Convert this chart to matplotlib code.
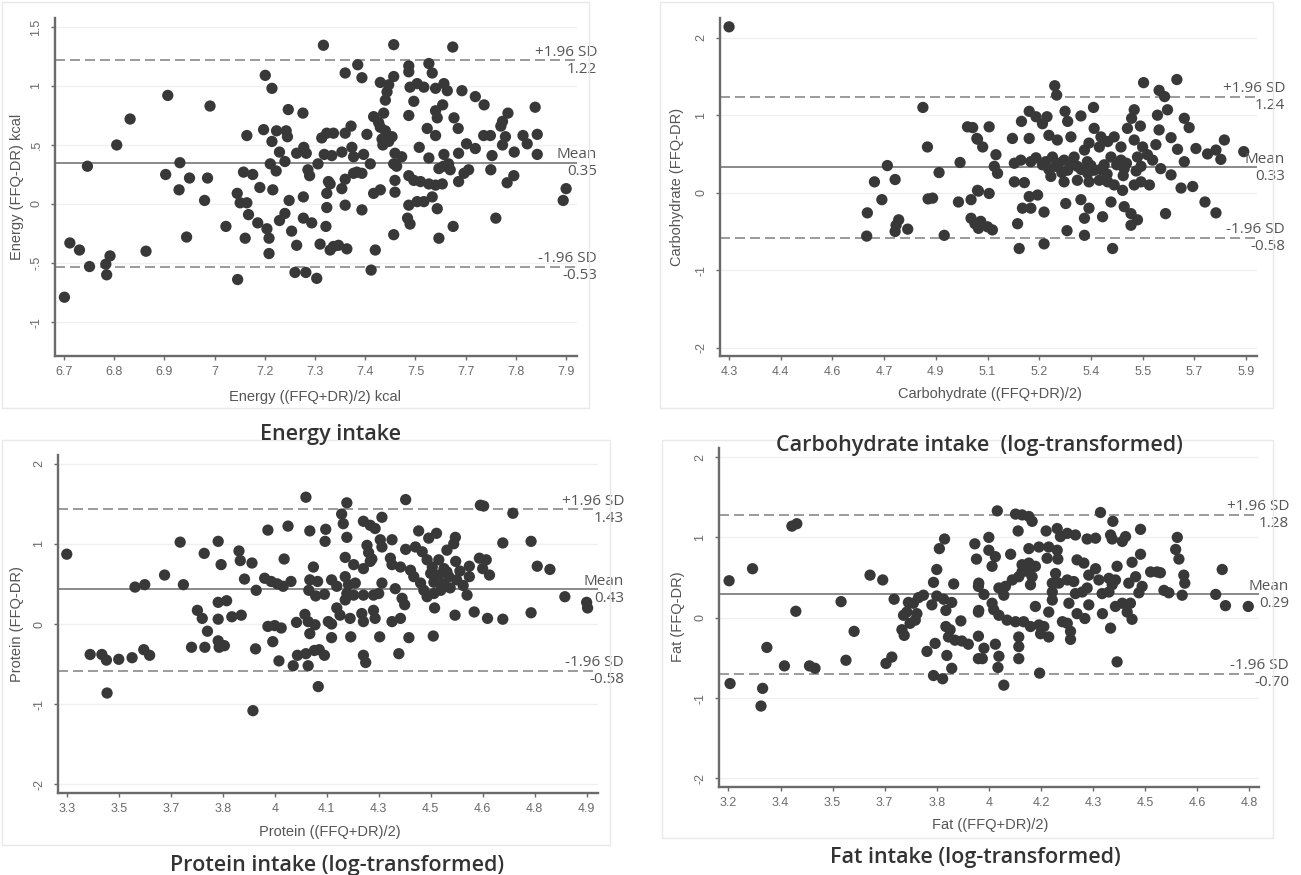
import numpy as np
import matplotlib
import matplotlib.pyplot as plt
from matplotlib.patches import Rectangle

matplotlib.use('agg')

# Bland-Altman data: (mean of FFQ and DR, FFQ - DR)
energy_points = [
    (7.320, 1.345), (7.181, 1.09), (7.197, 0.98), (6.948, 0.92), (7.049, 0.83), (7.236, 0.80), (7.271, 0.77),
    (6.858, 0.72), (6.826, 0.50), (6.756, 0.32), (6.943, 0.25), (6.977, 0.35), (6.975, 0.12), (7.000, 0.22),
    (7.043, 0.22), (7.036, 0.03), (6.993, -0.28), (7.087, -0.19), (6.896, -0.40), (6.714, -0.33), (6.737, -0.39),
    (6.761, -0.53), (6.810, -0.44), (6.800, -0.51), (6.802, -0.60), (6.701, -0.79), (7.137, 0.58), (7.177, 0.63),
    (7.208, 0.62), (7.231, 0.62), (7.234, 0.57), (7.197, 0.53), (7.215, 0.44), (7.228, 0.36), (7.193, 0.34),
    (7.207, 0.28), (7.129, 0.27), (7.151, 0.25), (7.168, 0.14), (7.199, 0.12), (7.114, 0.09), (7.121, 0.01),
    (7.137, 0.01), (7.141, -0.09), (7.163, -0.16), (7.185, -0.21), (7.190, -0.29), (7.133, -0.29), (7.190, -0.42),
    (7.115, -0.64), (7.228, -0.08), (7.215, -0.14), (7.238, 0.03), (7.244, -0.23), (7.256, -0.35), (7.252, -0.58),
    (7.278, -0.58), (7.304, -0.63), (7.256, 0.43), (7.273, 0.48), (7.279, 0.43), (7.283, 0.29), (7.287, 0.24),
    (7.307, 0.34), (7.272, 0.06), (7.272, -0.12), (7.292, -0.16), (7.312, -0.34), (7.316, 0.56), (7.328, 0.60),
    (7.322, 0.42), (7.328, 0.09), (7.332, 0.19), (7.328, -0.03), (7.326, -0.19), (7.336, -0.39),
    (7.488, 1.35), (7.629, 1.33), (7.402, 1.18), (7.372, 1.11), (7.412, 1.07), (7.524, 1.17), (7.524, 1.12),
    (7.572, 1.19), (7.580, 1.11), (7.488, 1.08), (7.456, 1.03), (7.476, 1.01), (7.472, 0.95), (7.468, 0.88),
    (7.527, 0.99), (7.544, 1.02), (7.560, 0.99), (7.588, 0.98), (7.608, 1.02), (7.616, 0.96), (7.605, 0.84),
    (7.651, 0.96), (7.683, 0.91), (7.704, 0.84), (7.826, 0.82), (7.761, 0.77), (7.748, 0.70), (7.744, 0.66),
    (7.536, 0.87), (7.524, 0.75), (7.588, 0.79), (7.592, 0.73), (7.632, 0.73), (7.642, 0.64), (7.440, 0.74),
    (7.452, 0.69), (7.464, 0.77), (7.456, 0.65), (7.468, 0.62), (7.484, 0.57), (7.460, 0.55), (7.476, 0.53),
    (7.462, 0.50), (7.424, 0.59), (7.386, 0.66), (7.372, 0.60), (7.344, 0.60), (7.568, 0.64), (7.588, 0.58),
    (7.703, 0.58), (7.719, 0.58), (7.755, 0.57), (7.797, 0.58), (7.831, 0.59), (7.807, 0.51), (7.748, 0.50),
    (7.776, 0.44), (7.831, 0.42), (7.723, 0.41), (7.683, 0.47), (7.662, 0.51), (7.643, 0.43), (7.549, 0.48),
    (7.572, 0.39), (7.608, 0.42), (7.607, 0.32), (7.619, 0.34), (7.623, 0.29), (7.596, 0.30), (7.491, 0.43),
    (7.507, 0.40), (7.488, 0.34), (7.495, 0.32), (7.388, 0.48), (7.364, 0.44), (7.340, 0.41), (7.392, 0.40),
    (7.416, 0.42), (7.432, 0.34), (7.400, 0.27), (7.392, 0.26), (7.412, 0.26), (7.372, 0.21), (7.364, 0.13),
    (7.336, 0.17), (7.372, -0.01), (7.412, -0.05), (7.344, -0.36), (7.356, -0.35), (7.376, -0.38), (7.444, -0.39),
    (7.434, -0.56), (7.440, 0.09), (7.456, 0.12), (7.491, 0.20), (7.491, 0.10), (7.524, 0.24), (7.536, 0.20),
    (7.552, 0.19), (7.572, 0.17), (7.588, 0.16), (7.604, 0.17), (7.643, 0.19), (7.720, 0.29), (7.667, 0.29),
    (7.656, 0.26), (7.775, 0.24), (7.759, 0.18), (7.900, 0.13), (7.893, 0.03), (7.580, 0.06), (7.560, 0.02),
    (7.544, 0.02), (7.524, -0.01), (7.592, -0.04), (7.521, -0.12), (7.527, -0.17), (7.488, -0.26), (7.596, -0.29),
    (7.630, -0.19), (7.732, -0.12),
]

carb_points = [
    (4.300, 2.14), (4.900, 1.10), (5.038, 0.85), (5.067, 0.70), (4.914, 0.59), (4.790, 0.35), (5.015, 0.39),
    (4.950, 0.26), (4.750, 0.14), (4.814, 0.17), (4.773, -0.09), (4.916, -0.08), (4.930, -0.07), (5.010, -0.12),
    (5.049, -0.09), (5.072, 0.02), (4.728, -0.26), (4.825, -0.35), (4.817, -0.42), (4.814, -0.50), (4.853, -0.47),
    (4.726, -0.56), (4.966, -0.55), (5.049, -0.33), (5.061, -0.40), (5.072, -0.46),
    (5.308, 1.38), (5.314, 1.26), (5.583, 1.42), (5.686, 1.46), (5.631, 1.32), (5.648, 1.24), (5.657, 1.07),
    (5.626, 1.00), (5.709, 0.96), (5.724, 0.84), (5.554, 1.07), (5.546, 0.96), (5.573, 0.86), (5.533, 0.83),
    (5.428, 1.10), (5.340, 1.05), (5.389, 0.99), (5.348, 0.92), (5.229, 1.05), (5.250, 0.98), (5.284, 0.98),
    (5.205, 0.92), (5.270, 0.89), (5.105, 0.85), (5.054, 0.84), (5.177, 0.70), (5.229, 0.70), (5.290, 0.74),
    (5.316, 0.68), (5.358, 0.72), (5.430, 0.83), (5.451, 0.72), (5.472, 0.66), (5.492, 0.72), (5.446, 0.59),
    (5.414, 0.64), (5.400, 0.55), (5.513, 0.59), (5.554, 0.68), (5.580, 0.59), (5.621, 0.62), (5.631, 0.81),
    (5.668, 0.71), (5.688, 0.56), (5.745, 0.57), (5.781, 0.50), (5.807, 0.55), (5.833, 0.68), (5.822, 0.43),
    (5.893, 0.53), (5.069, 0.69), (5.085, 0.59), (5.126, 0.49), (5.121, 0.34), (5.131, 0.25), (5.183, 0.38),
    (5.203, 0.42), (5.234, 0.40), (5.270, 0.36), (5.301, 0.46), (5.311, 0.34), (5.337, 0.42), (5.368, 0.46),
    (5.348, 0.29), (5.378, 0.34), (5.409, 0.40), (5.430, 0.29), (5.461, 0.36), (5.482, 0.46), (5.513, 0.42),
    (5.523, 0.31), (5.564, 0.46), (5.595, 0.49), (5.575, 0.34), (5.611, 0.42), (5.636, 0.31), (5.709, 0.40),
    (5.668, 0.23), (5.183, 0.14), (5.214, 0.13), (5.296, 0.21), (5.337, 0.14), (5.378, 0.16), (5.414, 0.14),
    (5.446, 0.16), (5.472, 0.14), (5.492, 0.10), (5.518, 0.03), (5.554, 0.10), (5.575, 0.14), (5.601, 0.10),
    (5.699, 0.06), (5.735, 0.08), (5.069, 0.03), (5.105, -0.01), (5.229, -0.05), (5.255, -0.03), (5.208, -0.20),
    (5.234, -0.20), (5.275, -0.25), (5.342, -0.14), (5.389, -0.09), (5.414, -0.20), (5.400, -0.33), (5.456, -0.31),
    (5.482, -0.12), (5.523, -0.18), (5.544, -0.27), (5.564, -0.35), (5.544, -0.42), (5.651, -0.27), (5.773, -0.12),
    (5.807, -0.26), (5.079, -0.37), (5.100, -0.44), (5.115, -0.48), (5.193, -0.40), (5.346, -0.49), (5.400, -0.55),
    (5.198, -0.72), (5.275, -0.66), (5.487, -0.72),
    (5.25, 0.45), (5.28, 0.40), (5.32, 0.38), (5.36, 0.36), (5.39, 0.30), (5.42, 0.35), (5.45, 0.30),
    (5.50, 0.36), (5.53, 0.38), (5.29, 0.30), (5.33, 0.26), (5.41, 0.25), (5.47, 0.24), (5.52, 0.22),
    (5.56, 0.28),
]

protein_points = [
    (3.300, 0.87), (3.372, -0.38), (3.408, -0.38), (3.422, -0.45), (3.460, -0.44), (3.501, -0.42), (3.537, -0.32),
    (3.555, -0.39), (3.424, -0.86), (3.510, 0.46), (3.540, 0.49), (3.601, 0.61), (3.649, 1.02), (3.659, 0.49),
    (3.723, 0.88), (3.766, 1.03), (3.775, 0.74), (3.702, 0.17), (3.717, 0.07), (3.766, 0.27), (3.792, 0.29),
    (3.766, 0.06), (3.808, 0.09), (3.837, 0.11), (3.733, -0.09), (3.684, -0.29), (3.725, -0.29), (3.766, -0.21),
    (3.769, -0.29), (3.785, -0.27), (3.881, -0.31), (3.873, -1.08), (3.830, 0.91), (3.834, 0.79), (3.870, 0.76),
    (3.847, 0.56), (3.883, 0.42), (3.909, 0.57), (3.929, 0.53), (3.948, 0.50), (3.966, 0.47), (3.990, 0.53),
    (3.919, 1.17), (3.981, 1.22), (3.969, 0.81), (4.036, 1.58), (4.048, 1.16), (4.097, 1.18), (4.095, 1.03),
    (4.059, 0.71), (4.048, 0.55), (4.045, 0.42), (4.072, 0.53), (4.066, 0.35), (4.093, 0.37), (4.115, 0.55),
    (3.919, -0.03), (3.940, -0.02), (3.960, -0.05), (3.934, -0.22), (3.953, -0.46), (4.007, 0.02), (4.033, 0.12),
    (4.043, 0.03), (4.064, -0.01), (4.048, -0.12), (4.115, 0.00), (4.115, -0.17), (3.997, -0.52), (4.010, -0.39),
    (4.036, -0.37), (4.062, -0.33), (4.077, -0.32), (4.093, -0.39), (4.043, -0.52), (4.074, -0.78),
    (4.162, 1.51), (4.343, 1.55), (4.573, 1.48), (4.583, 1.47), (4.673, 1.38), (4.146, 1.37), (4.151, 1.25),
    (4.270, 1.33), (4.213, 1.28), (4.234, 1.23), (4.249, 1.19), (4.162, 1.08), (4.224, 0.98), (4.229, 0.89),
    (4.239, 0.81), (4.265, 1.05), (4.301, 1.05), (4.270, 0.96), (4.383, 1.16), (4.414, 1.07), (4.438, 1.13),
    (4.496, 1.08), (4.491, 1.00), (4.343, 0.93), (4.373, 0.96), (4.394, 0.90), (4.470, 0.92), (4.642, 1.01),
    (4.729, 1.03), (4.157, 0.83), (4.183, 0.74), (4.213, 0.69), (4.234, 0.78), (4.296, 0.82), (4.301, 0.74),
    (4.327, 0.71), (4.358, 0.67), (4.368, 0.59), (4.409, 0.80), (4.425, 0.71), (4.445, 0.80), (4.461, 0.69),
    (4.420, 0.63), (4.445, 0.61), (4.476, 0.59), (4.497, 0.78), (4.539, 0.72), (4.570, 0.82), (4.591, 0.80),
    (4.580, 0.69), (4.601, 0.61), (4.539, 0.59), (4.748, 0.72), (4.787, 0.68), (4.157, 0.59), (4.167, 0.49),
    (4.188, 0.51), (4.131, 0.47), (4.270, 0.51), (4.311, 0.44), (4.260, 0.38), (4.244, 0.36), (4.213, 0.36),
    (4.162, 0.38), (4.157, 0.30), (4.183, 0.36), (4.389, 0.51), (4.399, 0.42), (4.409, 0.34), (4.430, 0.38),
    (4.451, 0.42), (4.432, 0.20), (4.332, 0.32), (4.340, 0.24), (4.532, 0.36), (4.833, 0.34), (4.900, 0.27),
    (4.903, 0.20), (4.131, 0.20), (4.141, 0.11), (4.105, 0.03), (4.172, 0.07), (4.208, 0.13), (4.213, 0.03),
    (4.244, 0.17), (4.249, 0.07), (4.301, 0.03), (4.327, 0.07), (4.495, 0.11), (4.554, 0.15), (4.595, 0.07),
    (4.642, 0.06), (4.729, 0.14), (4.174, -0.16), (4.263, -0.16), (4.353, -0.17), (4.428, -0.15), (4.213, -0.39),
    (4.220, -0.48), (4.322, -0.37),
    (4.46, 0.50), (4.48, 0.45), (4.50, 0.55), (4.52, 0.48), (4.47, 0.65), (4.51, 0.66), (4.43, 0.52),
]

fat_points = [
    (3.202, 0.46), (3.205, -0.82), (3.274, 0.61), (3.305, -0.88), (3.300, -1.10), (3.318, -0.37), (3.372, -0.60),
    (3.395, 1.14), (3.410, 1.17), (3.407, 0.08), (3.449, -0.60), (3.466, -0.63), (3.546, 0.20), (3.586, -0.17),
    (3.561, -0.53), (3.635, 0.53), (3.674, 0.47), (3.684, -0.57), (3.702, -0.49), (3.709, 0.23), (3.753, 0.19),
    (3.768, 0.18), (3.748, 0.07), (3.738, 0.03), (3.779, 0.05), (3.774, -0.03), (3.758, -0.07), (3.733, -0.15),
    (3.740, -0.22), (3.784, 0.25), (3.799, 0.28), (3.825, 0.16), (3.840, 0.27), (3.861, 0.23), (3.886, 0.19),
    (3.868, 0.09), (3.830, 0.44), (3.840, 0.60), (3.848, 0.86), (3.864, 0.98), (3.892, 0.42), (3.957, 0.92),
    (3.962, 0.73), (3.968, 0.39), (3.968, 0.07), (3.914, -0.04), (3.868, -0.11), (3.881, -0.15), (3.876, -0.24),
    (3.896, -0.28), (3.917, -0.29), (3.937, -0.33), (3.968, -0.23), (3.835, -0.32), (3.810, -0.42), (3.871, -0.47),
    (3.886, -0.63), (3.830, -0.72), (3.858, -0.76), (3.968, -0.51),
    (4.026, 1.33), (4.082, 1.29), (4.102, 1.28), (4.123, 1.26), (4.133, 1.20), (4.343, 1.31), (4.381, 1.20),
    (4.090, 1.08), (4.176, 1.08), (4.210, 1.11), (4.220, 1.01), (4.241, 1.05), (4.266, 1.03), (4.302, 0.98),
    (4.328, 0.99), (4.374, 1.03), (4.379, 0.98), (4.410, 0.95), (4.420, 1.01), (4.466, 1.10), (4.579, 1.00),
    (4.574, 0.85), (4.584, 0.73), (4.000, 1.00), (4.000, 0.84), (4.020, 0.76), (4.010, 0.64), (4.067, 0.79),
    (4.123, 0.86), (4.154, 0.88), (4.184, 0.88), (4.210, 0.84), (4.179, 0.74), (4.212, 0.73), (4.102, 0.66),
    (4.123, 0.68), (4.143, 0.64), (4.102, 0.57), (4.123, 0.57), (4.133, 0.51), (4.128, 0.41), (4.092, 0.51),
    (4.072, 0.47), (4.051, 0.39), (4.031, 0.37), (4.046, 0.28), (3.985, 0.29), (3.969, 0.43), (4.205, 0.55),
    (4.195, 0.43), (4.195, 0.32), (4.195, 0.22), (4.184, 0.07), (4.215, 0.43), (4.241, 0.47), (4.261, 0.45),
    (4.271, 0.72), (4.292, 0.68), (4.328, 0.61), (4.307, 0.53), (4.338, 0.47), (4.369, 0.49), (4.394, 0.64),
    (4.440, 0.69), (4.466, 0.79), (4.451, 0.51), (4.389, 0.47), (4.379, 0.41), (4.348, 0.30), (4.369, 0.32),
    (4.430, 0.43), (4.471, 0.39), (4.461, 0.31), (4.497, 0.57), (4.517, 0.57), (4.527, 0.56), (4.538, 0.34),
    (4.553, 0.31), (4.599, 0.53), (4.602, 0.43), (4.594, 0.28), (4.717, 0.60), (4.697, 0.29), (4.727, 0.15),
    (4.797, 0.14), (4.266, 0.30), (4.287, 0.32), (4.302, 0.37), (4.246, 0.18), (4.271, 0.05), (4.295, -0.01),
    (4.307, 0.16), (4.349, 0.05), (4.389, 0.14), (4.410, 0.18), (4.435, 0.18), (4.425, 0.07), (4.440, -0.02),
    (3.969, 0.09), (4.010, 0.18), (4.015, 0.10), (4.031, 0.03), (4.056, -0.03), (4.082, -0.05), (4.107, -0.05),
    (4.128, -0.11), (4.143, 0.14), (4.154, -0.09), (4.169, -0.11), (4.159, -0.20), (4.184, -0.24), (4.226, -0.05),
    (4.241, -0.07), (4.251, -0.17), (4.251, -0.27), (4.374, -0.13), (3.985, -0.38), (4.020, -0.33), (3.980, -0.51),
    (4.031, -0.48), (4.028, -0.62), (4.046, -0.84), (4.092, -0.24), (4.092, -0.36), (4.092, -0.51), (4.156, -0.69),
    (4.394, -0.55),
]

# mean difference and limits of agreement (mean, +1.96 SD, -1.96 SD)
energy_limits = (0.35, 1.22, -0.53)
carb_limits = (0.33, 1.24, -0.58)
protein_limits = (0.43, 1.43, -0.58)
fat_limits = (0.29, 1.28, -0.70)

# tick labels as printed (ticks are evenly spaced between first and last)
energy_xlabels = ["6.7", "6.8", "6.9", "7", "7.2", "7.3", "7.4", "7.5", "7.7", "7.8", "7.9"]
carb_xlabels = ["4.3", "4.4", "4.6", "4.7", "4.9", "5.1", "5.2", "5.4", "5.5", "5.7", "5.9"]
protein_xlabels = ["3.3", "3.5", "3.7", "3.8", "4", "4.1", "4.3", "4.5", "4.6", "4.8", "4.9"]
fat_xlabels = ["3.2", "3.4", "3.5", "3.7", "3.8", "4", "4.2", "4.3", "4.5", "4.6", "4.8"]

energy_yticks = [-1, -0.5, 0, 0.5, 1, 1.5]
energy_ylabels = ["-1", "-.5", "0", ".5", "1", "1.5"]
log_yticks = [-2, -1, 0, 1, 2]
log_ylabels = ["-2", "-1", "0", "1", "2"]

W, H = 1301, 875


def fx(px):
    return px / W


def fy(py):
    return 1 - py / H


panels = [
    dict(pts=energy_points, lim=energy_limits, xl=energy_xlabels, xr=(6.7, 7.9),
         yt=energy_yticks, yl=energy_ylabels,
         box=(55, 18, 577, 356), xlim=(6.6785, 7.926), ylim=(-1.288, 1.576),
         xlabel="Energy ((FFQ+DR)/2) kcal", ylabel="Energy (FFQ-DR) kcal",
         title="Energy intake", title_at=(330, 435), xlabel_at=(315, 397), ylabel_at=(17, 187),
         frame=(2, 2, 589, 408), over=20),
    dict(pts=carb_points, lim=carb_limits, xl=carb_xlabels, xr=(4.3, 5.9),
         yt=log_yticks, yl=log_ylabels,
         box=(720, 18, 1257, 356), xlim=(4.272, 5.934), ylim=(-2.107, 2.254),
         xlabel="Carbohydrate ((FFQ+DR)/2)", ylabel="Carbohydrate (FFQ-DR)",
         title="Carbohydrate intake  (log-transformed)", title_at=(979, 445), xlabel_at=(990, 394),
         ylabel_at=(677, 187), frame=(660, 2, 1273, 408), over=28),
    dict(pts=protein_points, lim=protein_limits, xl=protein_xlabels, xr=(3.3, 4.9),
         yt=log_yticks, yl=log_ylabels,
         box=(58, 455, 598, 793), xlim=(3.273, 4.935), ylim=(-2.106, 2.106),
         xlabel="Protein ((FFQ+DR)/2)", ylabel="Protein (FFQ-DR)",
         title="Protein intake (log-transformed)", title_at=(337, 865), xlabel_at=(330, 832),
         ylabel_at=(17, 624), frame=(2, 440, 610, 845), over=26),
    dict(pts=fat_points, lim=fat_limits, xl=fat_xlabels, xr=(3.2, 4.8),
         yt=log_yticks, yl=log_ylabels,
         box=(719, 448, 1259, 787), xlim=(3.171, 4.830), ylim=(-2.108, 2.113),
         xlabel="Fat ((FFQ+DR)/2)", ylabel="Fat (FFQ-DR)",
         title="Fat intake (log-transformed)", title_at=(975, 858), xlabel_at=(990, 825),
         ylabel_at=(678, 617), frame=(662, 440, 1273, 838), over=30),
]

axis_col = '#6a6a6a'
line_col = '#8a8a8a'
dot_col = '#383838'
note_font = 'Open Sans'

fig = plt.figure(figsize=(W / 100, H / 100), dpi=100)
fig.patch.set_facecolor('white')

for p in panels:
    l, t, r, b = p['frame']
    fig.patches.append(Rectangle((fx(l), fy(b)), (r - l) / W, (b - t) / H, transform=fig.transFigure,
                                 fill=False, edgecolor='#e9e9e9', linewidth=1))

    l, t, r, b = p['box']
    ax = fig.add_axes([fx(l), fy(b), (r - l) / W, (b - t) / H])
    ax.set_xlim(*p['xlim'])
    ax.set_ylim(*p['ylim'])

    ax.set_xticks(np.linspace(p['xr'][0], p['xr'][1], len(p['xl'])))
    ax.set_xticklabels(p['xl'], fontsize=9, color='#505050', family='Liberation Sans')
    ax.set_yticks(p['yt'])
    ax.set_yticklabels(p['yl'], fontsize=9, color='#505050', family='Liberation Sans',
                       rotation=90, va='center')
    ax.tick_params(direction='out', length=3, width=1, colors=axis_col, pad=4)
    ax.tick_params(axis='y', pad=6)

    ax.yaxis.grid(True, color='#f0f0f0', linewidth=1)
    ax.set_axisbelow(True)
    for side in ('top', 'right'):
        ax.spines[side].set_visible(False)
    for side in ('left', 'bottom'):
        ax.spines[side].set_color(axis_col)
        ax.spines[side].set_linewidth(1.7)

    mean, upper, lower = p['lim']
    ax.axhline(mean, color=line_col, linewidth=1.4, zorder=2)
    ax.axhline(upper, color=line_col, linewidth=1.2, linestyle=(0, (6, 3)), zorder=2)
    ax.axhline(lower, color=line_col, linewidth=1.2, linestyle=(0, (6, 3)), zorder=2)

    pts = np.array(p['pts'])
    ax.scatter(pts[:, 0], pts[:, 1], s=66, color=dot_col, edgecolors='none', zorder=3, clip_on=False)

    notes = [("+1.96 SD", f"{upper:.2f}", upper), ("Mean", f"{mean:.2f}", mean),
             ("-1.96 SD", f"{lower:.2f}", lower)]
    for name, val, yv in notes:
        ax.annotate(name, xy=(1, yv), xycoords=('axes fraction', 'data'), xytext=(p['over'], 8),
                    textcoords='offset pixels', ha='right', va='center', fontsize=11,
                    color='#555555', family=note_font, annotation_clip=False)
        ax.annotate(val, xy=(1, yv), xycoords=('axes fraction', 'data'), xytext=(p['over'], -9),
                    textcoords='offset pixels', ha='right', va='center', fontsize=11,
                    color='#555555', family=note_font, annotation_clip=False)

    fig.text(fx(p['xlabel_at'][0]), fy(p['xlabel_at'][1]), p['xlabel'], ha='center', va='center',
             fontsize=10.5, color='#555555', family='Liberation Sans')
    fig.text(fx(p['ylabel_at'][0]), fy(p['ylabel_at'][1]), p['ylabel'], ha='center', va='center',
             rotation=90, fontsize=10.5, color='#555555', family='Liberation Sans')
    fig.text(fx(p['title_at'][0]), fy(p['title_at'][1]), p['title'], ha='center', va='center',
             fontsize=15.5, color='#333333', family='Open Sans', weight='semibold')

fig.savefig('out.png', dpi=100)
